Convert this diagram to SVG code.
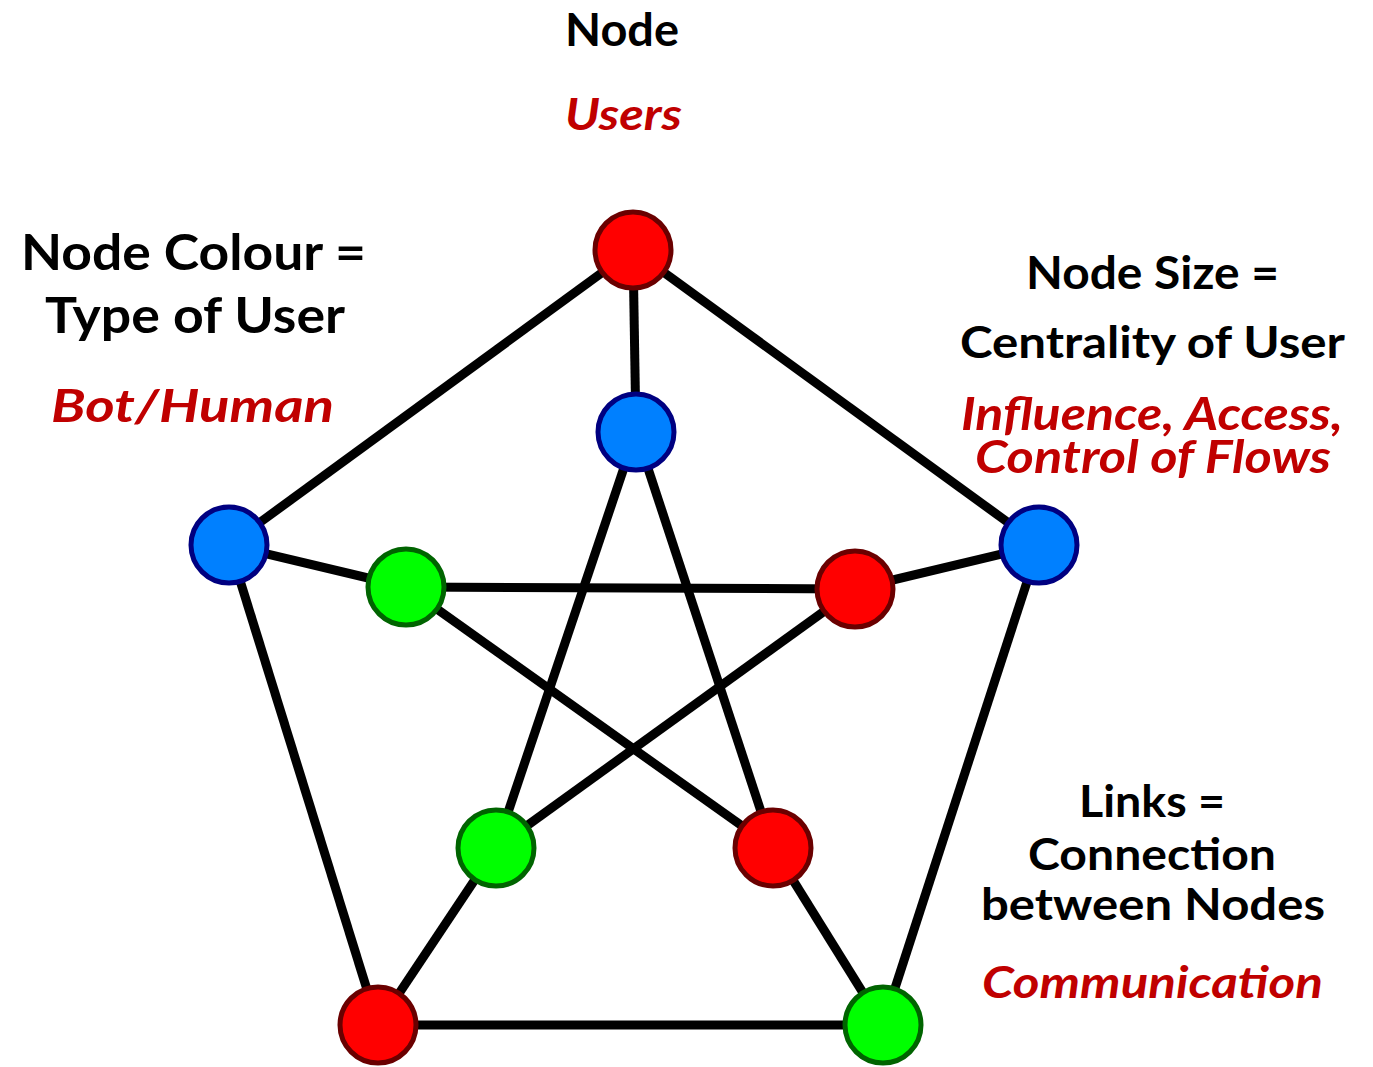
<svg xmlns="http://www.w3.org/2000/svg" width="1373" height="1067" viewBox="0 0 1373 1067">
<style>
.bg{fill:#ffffff}
.edge{stroke:#000000;stroke-width:9;stroke-linecap:butt;fill:none}
.n{stroke-width:5}
.red{fill:#FF0000;stroke:#6A0000}
.blue{fill:#0080FF;stroke:#000080}
.green{fill:#00FF00;stroke:#006400}
.t{font-family:Lato,"Open Sans","Liberation Sans",sans-serif;font-weight:bold;fill:#000000}
.r{font-style:italic;fill:#C00000}
</style>
<rect class="bg" x="0" y="0" width="1373" height="1067"/>
<g id="connectors">
<line class="edge" x1="633" y1="250" x2="229" y2="545"/>
<line class="edge" x1="633" y1="250" x2="1039" y2="545"/>
<line class="edge" x1="229" y1="545" x2="378" y2="1025"/>
<line class="edge" x1="1039" y1="545" x2="883" y2="1025"/>
<line class="edge" x1="378" y1="1025" x2="883" y2="1025"/>
<line class="edge" x1="633" y1="250" x2="636" y2="432"/>
<line class="edge" x1="229" y1="545" x2="406" y2="587"/>
<line class="edge" x1="1039" y1="545" x2="855" y2="589"/>
<line class="edge" x1="378" y1="1025" x2="496" y2="848"/>
<line class="edge" x1="883" y1="1025" x2="773" y2="848"/>
<line class="edge" x1="636" y1="432" x2="496" y2="848"/>
<line class="edge" x1="636" y1="432" x2="773" y2="848"/>
<line class="edge" x1="406" y1="587" x2="855" y2="589"/>
<line class="edge" x1="406" y1="587" x2="773" y2="848"/>
<line class="edge" x1="855" y1="589" x2="496" y2="848"/>
</g>
<g id="node-outer-top"><circle class="n red" cx="633" cy="250" r="38"/></g>
<g id="node-outer-left"><circle class="n blue" cx="229" cy="545" r="38"/></g>
<g id="node-outer-right"><circle class="n blue" cx="1039" cy="545" r="38"/></g>
<g id="node-outer-bottom-left"><circle class="n red" cx="378" cy="1025" r="38"/></g>
<g id="node-outer-bottom-right"><circle class="n green" cx="883" cy="1025" r="38"/></g>
<g id="node-inner-top"><circle class="n blue" cx="636" cy="432" r="38"/></g>
<g id="node-inner-left"><circle class="n green" cx="406" cy="587" r="38"/></g>
<g id="node-inner-right"><circle class="n red" cx="855" cy="589" r="38"/></g>
<g id="node-inner-bottom-left"><circle class="n green" cx="496" cy="848" r="38"/></g>
<g id="node-inner-bottom-right"><circle class="n red" cx="773" cy="848" r="38"/></g>
<g id="label-top">
<text class="t" x="565" y="46" font-size="46" textLength="114" lengthAdjust="spacingAndGlyphs">Node</text>
<text class="t r" x="565" y="130" font-size="44" textLength="117" lengthAdjust="spacingAndGlyphs">Users</text>
</g>
<g id="label-left">
<text class="t" x="21" y="270" font-size="49" textLength="345" lengthAdjust="spacingAndGlyphs">Node Colour =</text>
<text class="t" x="45" y="333" font-size="49" textLength="300" lengthAdjust="spacingAndGlyphs">Type of User</text>
<text class="t r" x="51" y="422" font-size="46" textLength="283" lengthAdjust="spacingAndGlyphs">Bot/Human</text>
</g>
<g id="label-right">
<text class="t" x="1026" y="289" font-size="45" textLength="253" lengthAdjust="spacingAndGlyphs">Node Size =</text>
<text class="t" x="960" y="358" font-size="44" textLength="385" lengthAdjust="spacingAndGlyphs">Centrality of User</text>
<text class="t r" x="961" y="430" font-size="46" textLength="382" lengthAdjust="spacingAndGlyphs">Influence, Access,</text>
<text class="t r" x="975" y="473" font-size="46" textLength="356" lengthAdjust="spacingAndGlyphs">Control of Flows</text>
</g>
<g id="label-bottom-right">
<text class="t" x="1079" y="817" font-size="43" textLength="146" lengthAdjust="spacingAndGlyphs">Links =</text>
<text class="t" x="1028" y="870" font-size="43" textLength="248" lengthAdjust="spacingAndGlyphs">Connection</text>
<text class="t" x="981" y="920" font-size="43" textLength="344" lengthAdjust="spacingAndGlyphs">between Nodes</text>
<text class="t r" x="982" y="998" font-size="44" textLength="341" lengthAdjust="spacingAndGlyphs">Communication</text>
</g>
</svg>
